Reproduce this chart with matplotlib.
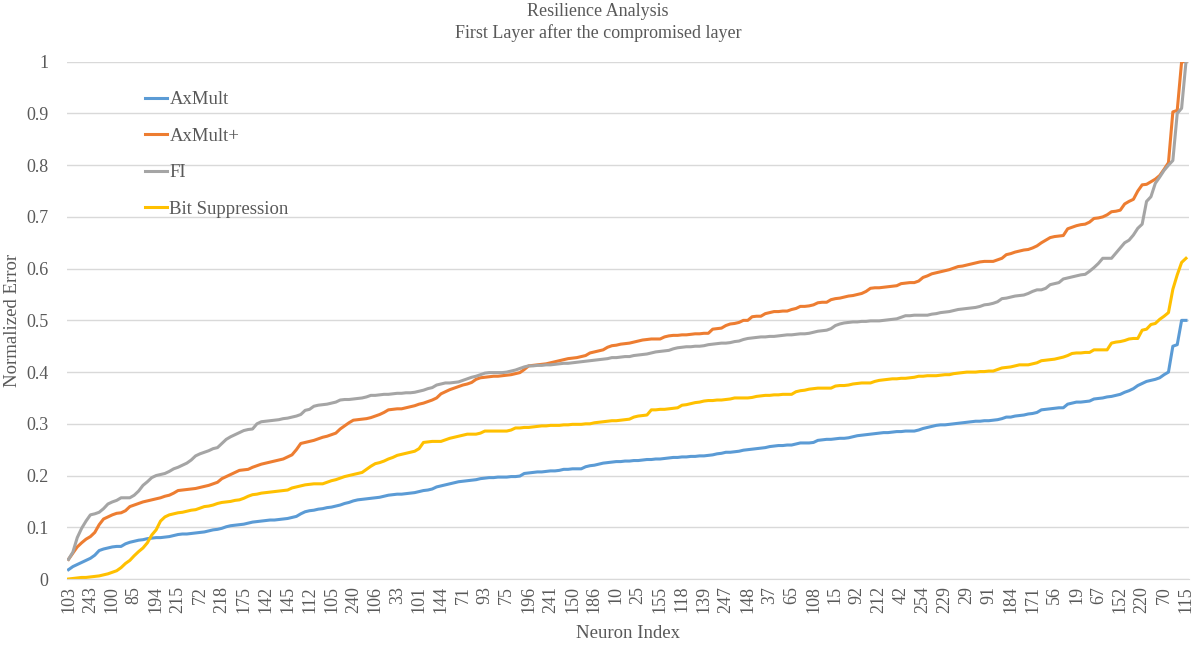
import matplotlib
matplotlib.use("Agg")
import matplotlib.pyplot as plt
import numpy as np

# tick labels (every 5th neuron on the sorted axis)
tick_labels = [
    "103", "243", "100", "85", "194", "215", "72", "218", "175", "142",
    "145", "112", "105", "240", "106", "33", "101", "144", "71", "93",
    "75", "196", "241", "150", "186", "10", "25", "155", "118", "139",
    "247", "148", "37", "65", "108", "15", "92", "212", "42", "254",
    "229", "29", "91", "184", "171", "56", "19", "67", "152", "220",
    "70", "115",
]

axmult = [
    0.018, 0.024, 0.028, 0.032, 0.036, 0.040, 0.046, 0.055, 0.058, 0.060,
    0.062, 0.063, 0.063, 0.068, 0.071, 0.073, 0.075, 0.076, 0.078, 0.079,
    0.080, 0.080, 0.081, 0.082, 0.084, 0.086, 0.087, 0.087, 0.088, 0.089,
    0.090, 0.091, 0.093, 0.095, 0.096, 0.098, 0.101, 0.103, 0.104, 0.105,
    0.106, 0.108, 0.110, 0.111, 0.112, 0.113, 0.114, 0.114, 0.115, 0.116,
    0.117, 0.119, 0.121, 0.126, 0.130, 0.132, 0.133, 0.135, 0.136, 0.138,
    0.139, 0.141, 0.143, 0.146, 0.148, 0.151, 0.153, 0.154, 0.155, 0.156,
    0.157, 0.158, 0.160, 0.162, 0.163, 0.164, 0.164, 0.165, 0.166, 0.167,
    0.169, 0.171, 0.172, 0.174, 0.178, 0.180, 0.182, 0.184, 0.186, 0.188,
    0.189, 0.190, 0.191, 0.192, 0.194, 0.195, 0.196, 0.196, 0.197, 0.197,
    0.197, 0.198, 0.198, 0.199, 0.204, 0.205, 0.206, 0.207, 0.207, 0.208,
    0.209, 0.209, 0.210, 0.212, 0.212, 0.213, 0.213, 0.213, 0.217, 0.219,
    0.220, 0.222, 0.224, 0.225, 0.226, 0.227, 0.227, 0.228, 0.228, 0.229,
    0.229, 0.230, 0.231, 0.231, 0.232, 0.232, 0.233, 0.234, 0.235, 0.235,
    0.236, 0.236, 0.237, 0.237, 0.238, 0.238, 0.239, 0.240, 0.242, 0.243,
    0.245, 0.245, 0.246, 0.247, 0.249, 0.250, 0.251, 0.252, 0.253, 0.254,
    0.256, 0.257, 0.258, 0.258, 0.259, 0.259, 0.261, 0.263, 0.263, 0.263,
    0.264, 0.268, 0.269, 0.270, 0.270, 0.271, 0.272, 0.272, 0.273, 0.275,
    0.277, 0.278, 0.279, 0.280, 0.281, 0.282, 0.283, 0.283, 0.284, 0.285,
    0.285, 0.286, 0.286, 0.286, 0.288, 0.291, 0.293, 0.295, 0.297, 0.298,
    0.298, 0.299, 0.300, 0.301, 0.302, 0.303, 0.304, 0.305, 0.305, 0.306,
    0.306, 0.307, 0.308, 0.310, 0.313, 0.313, 0.315, 0.316, 0.317, 0.319,
    0.320, 0.322, 0.327, 0.328, 0.329, 0.330, 0.331, 0.331, 0.338, 0.340,
    0.342, 0.342, 0.343, 0.344, 0.348, 0.349, 0.350, 0.352, 0.353, 0.355,
    0.357, 0.361, 0.364, 0.368, 0.374, 0.378, 0.382, 0.384, 0.386, 0.389,
    0.395, 0.400, 0.450, 0.453, 0.500, 0.500,
]

axmult_plus = [
    0.038, 0.050, 0.062, 0.070, 0.077, 0.082, 0.090, 0.105, 0.116, 0.120,
    0.124, 0.127, 0.128, 0.132, 0.140, 0.143, 0.146, 0.149, 0.151, 0.153,
    0.155, 0.157, 0.160, 0.162, 0.166, 0.171, 0.172, 0.173, 0.174, 0.175,
    0.177, 0.179, 0.181, 0.184, 0.187, 0.194, 0.198, 0.202, 0.206, 0.210,
    0.211, 0.212, 0.216, 0.219, 0.222, 0.224, 0.226, 0.228, 0.230, 0.232,
    0.236, 0.240, 0.250, 0.262, 0.264, 0.266, 0.268, 0.271, 0.274, 0.276,
    0.279, 0.282, 0.290, 0.296, 0.302, 0.307, 0.308, 0.309, 0.310, 0.312,
    0.315, 0.318, 0.322, 0.327, 0.328, 0.329, 0.329, 0.331, 0.333, 0.335,
    0.338, 0.340, 0.343, 0.346, 0.350, 0.358, 0.362, 0.366, 0.369, 0.372,
    0.375, 0.377, 0.380, 0.386, 0.389, 0.390, 0.391, 0.392, 0.392, 0.393,
    0.394, 0.395, 0.397, 0.399, 0.405, 0.412, 0.413, 0.414, 0.415, 0.416,
    0.418, 0.420, 0.422, 0.424, 0.426, 0.427, 0.428, 0.430, 0.432, 0.437,
    0.439, 0.441, 0.443, 0.448, 0.451, 0.452, 0.454, 0.455, 0.456, 0.458,
    0.460, 0.462, 0.463, 0.464, 0.464, 0.464, 0.468, 0.470, 0.471, 0.471,
    0.472, 0.472, 0.473, 0.474, 0.474, 0.475, 0.475, 0.483, 0.484, 0.485,
    0.490, 0.493, 0.494, 0.496, 0.500, 0.500, 0.507, 0.508, 0.508, 0.513,
    0.515, 0.517, 0.517, 0.518, 0.518, 0.521, 0.523, 0.527, 0.527, 0.528,
    0.530, 0.534, 0.535, 0.535, 0.540, 0.542, 0.543, 0.545, 0.547, 0.548,
    0.550, 0.552, 0.556, 0.562, 0.563, 0.563, 0.564, 0.565, 0.566, 0.567,
    0.571, 0.572, 0.573, 0.573, 0.576, 0.583, 0.586, 0.590, 0.592, 0.594,
    0.596, 0.598, 0.601, 0.604, 0.605, 0.607, 0.609, 0.611, 0.613, 0.614,
    0.614, 0.614, 0.617, 0.620, 0.627, 0.629, 0.632, 0.634, 0.636, 0.637,
    0.640, 0.644, 0.650, 0.655, 0.660, 0.662, 0.663, 0.664, 0.677, 0.680,
    0.683, 0.685, 0.686, 0.690, 0.697, 0.698, 0.700, 0.704, 0.710, 0.711,
    0.713, 0.725, 0.730, 0.734, 0.750, 0.762, 0.763, 0.768, 0.773, 0.780,
    0.792, 0.805, 0.903, 0.906, 1.000, 1.000,
]

fi = [
    0.038, 0.052, 0.080, 0.098, 0.112, 0.124, 0.126, 0.129, 0.136, 0.145,
    0.149, 0.152, 0.157, 0.157, 0.157, 0.162, 0.170, 0.181, 0.188, 0.196,
    0.200, 0.202, 0.204, 0.208, 0.213, 0.216, 0.220, 0.224, 0.230, 0.238,
    0.242, 0.245, 0.248, 0.252, 0.254, 0.262, 0.270, 0.275, 0.279, 0.283,
    0.287, 0.289, 0.290, 0.300, 0.304, 0.305, 0.306, 0.307, 0.308, 0.310,
    0.311, 0.313, 0.315, 0.318, 0.326, 0.328, 0.334, 0.336, 0.337, 0.338,
    0.340, 0.342, 0.346, 0.347, 0.347, 0.348, 0.349, 0.350, 0.352, 0.355,
    0.355, 0.356, 0.357, 0.357, 0.358, 0.359, 0.359, 0.360, 0.360, 0.361,
    0.363, 0.365, 0.368, 0.370, 0.375, 0.377, 0.379, 0.379, 0.380, 0.381,
    0.384, 0.387, 0.390, 0.392, 0.395, 0.398, 0.399, 0.399, 0.399, 0.399,
    0.400, 0.402, 0.404, 0.407, 0.410, 0.412, 0.412, 0.413, 0.413, 0.414,
    0.414, 0.415, 0.416, 0.417, 0.417, 0.418, 0.419, 0.420, 0.421, 0.422,
    0.423, 0.424, 0.425, 0.426, 0.428, 0.428, 0.429, 0.430, 0.430, 0.432,
    0.433, 0.434, 0.435, 0.437, 0.439, 0.440, 0.441, 0.442, 0.445, 0.447,
    0.448, 0.449, 0.449, 0.450, 0.450, 0.451, 0.453, 0.454, 0.455, 0.456,
    0.456, 0.457, 0.459, 0.460, 0.463, 0.465, 0.466, 0.467, 0.468, 0.468,
    0.469, 0.469, 0.470, 0.471, 0.472, 0.472, 0.473, 0.474, 0.474, 0.475,
    0.477, 0.479, 0.480, 0.481, 0.484, 0.490, 0.493, 0.495, 0.496, 0.497,
    0.497, 0.498, 0.498, 0.499, 0.499, 0.499, 0.500, 0.501, 0.502, 0.503,
    0.506, 0.509, 0.509, 0.510, 0.510, 0.510, 0.510, 0.512, 0.513, 0.515,
    0.516, 0.517, 0.519, 0.521, 0.522, 0.523, 0.524, 0.525, 0.527, 0.530,
    0.531, 0.533, 0.536, 0.542, 0.543, 0.545, 0.547, 0.548, 0.549, 0.552,
    0.556, 0.559, 0.559, 0.562, 0.569, 0.571, 0.573, 0.580, 0.582, 0.584,
    0.586, 0.588, 0.589, 0.595, 0.602, 0.610, 0.620, 0.620, 0.620, 0.630,
    0.640, 0.650, 0.655, 0.665, 0.678, 0.686, 0.730, 0.739, 0.765, 0.777,
    0.790, 0.800, 0.809, 0.900, 0.910, 1.000,
]

bit_suppression = [
    0.000, 0.001, 0.002, 0.003, 0.003, 0.004, 0.005, 0.006, 0.008, 0.010,
    0.013, 0.016, 0.022, 0.030, 0.036, 0.045, 0.053, 0.060, 0.070, 0.085,
    0.095, 0.112, 0.120, 0.124, 0.126, 0.128, 0.129, 0.131, 0.133, 0.134,
    0.137, 0.140, 0.141, 0.143, 0.146, 0.148, 0.149, 0.150, 0.152, 0.153,
    0.156, 0.160, 0.163, 0.164, 0.166, 0.167, 0.168, 0.169, 0.170, 0.171,
    0.172, 0.176, 0.178, 0.180, 0.182, 0.183, 0.184, 0.184, 0.184, 0.187,
    0.190, 0.192, 0.195, 0.198, 0.200, 0.202, 0.204, 0.206, 0.212, 0.218,
    0.223, 0.225, 0.228, 0.232, 0.235, 0.239, 0.241, 0.243, 0.245, 0.247,
    0.252, 0.264, 0.265, 0.266, 0.266, 0.266, 0.269, 0.272, 0.274, 0.276,
    0.278, 0.280, 0.280, 0.280, 0.282, 0.286, 0.286, 0.286, 0.286, 0.286,
    0.286, 0.288, 0.292, 0.292, 0.293, 0.293, 0.294, 0.295, 0.296, 0.296,
    0.297, 0.297, 0.297, 0.298, 0.298, 0.299, 0.299, 0.299, 0.300, 0.300,
    0.302, 0.303, 0.304, 0.305, 0.306, 0.306, 0.307, 0.308, 0.309, 0.313,
    0.315, 0.316, 0.317, 0.327, 0.327, 0.328, 0.328, 0.329, 0.330, 0.331,
    0.336, 0.337, 0.339, 0.341, 0.342, 0.344, 0.345, 0.345, 0.346, 0.346,
    0.347, 0.348, 0.350, 0.350, 0.350, 0.350, 0.351, 0.353, 0.354, 0.355,
    0.355, 0.356, 0.356, 0.357, 0.357, 0.357, 0.362, 0.364, 0.365, 0.367,
    0.368, 0.369, 0.369, 0.369, 0.369, 0.373, 0.374, 0.374, 0.375, 0.377,
    0.378, 0.379, 0.379, 0.379, 0.382, 0.384, 0.385, 0.386, 0.387, 0.387,
    0.388, 0.388, 0.389, 0.390, 0.392, 0.392, 0.393, 0.393, 0.393, 0.394,
    0.395, 0.395, 0.397, 0.398, 0.399, 0.400, 0.400, 0.400, 0.401, 0.401,
    0.402, 0.402, 0.405, 0.408, 0.409, 0.410, 0.412, 0.414, 0.414, 0.414,
    0.416, 0.418, 0.422, 0.423, 0.424, 0.425, 0.427, 0.429, 0.432, 0.436,
    0.437, 0.437, 0.438, 0.438, 0.443, 0.443, 0.443, 0.443, 0.456, 0.458,
    0.459, 0.461, 0.464, 0.465, 0.465, 0.481, 0.483, 0.492, 0.494, 0.502,
    0.508, 0.515, 0.560, 0.588, 0.612, 0.620,
]

series = [
    ("AxMult", axmult, "#5B9BD5"),
    ("AxMult+", axmult_plus, "#ED7D31"),
    ("FI", fi, "#A5A5A5"),
    ("Bit Suppression", bit_suppression, "#FFC000"),
]

text_color = "#595959"
grid_color = "#D9D9D9"

plt.rcParams["font.family"] = ["Liberation Serif", "DejaVu Serif"]

fig = plt.figure(figsize=(11.96, 6.47), dpi=100)
ax = fig.add_axes([0.0558, 0.1051, 0.9384, 0.7995])

x = np.arange(len(axmult))
for name, vals, color in series:
    ax.plot(x, vals, color=color, lw=2.2, label=name, solid_joinstyle="round")

ax.set_xlim(-0.4, len(x) - 1 + 0.7)
ax.set_ylim(0, 1)
ax.set_yticks(np.arange(0, 1.01, 0.1))
ax.set_yticklabels(["0"] + [f"{v:.1f}" for v in np.arange(0.1, 0.95, 0.1)] + ["1"])
ax.set_xticks(x[::5])
ax.set_xticklabels(tick_labels, rotation=90)

ax.grid(axis="y", color=grid_color, lw=1.0)
ax.set_axisbelow(True)
for side in ["top", "right", "left"]:
    ax.spines[side].set_visible(False)
ax.spines["bottom"].set_color(grid_color)
ax.tick_params(axis="y", length=0, pad=13, labelsize=13, labelcolor=text_color)
ax.tick_params(axis="x", length=0, pad=5, labelsize=13, labelcolor=text_color)

fig.text(0.5, 1 - 12 / 647, "Resilience Analysis", ha="center", va="center",
         fontsize=13, color=text_color)
fig.text(0.5, 1 - 33 / 647, "First Layer after the compromised layer", ha="center",
         va="center", fontsize=13, color=text_color)
fig.text(628 / 1196, 1 - 633 / 647, "Neuron Index", ha="center", va="center",
         fontsize=13.5, color=text_color)
fig.text(13 / 1196, 1 - 320 / 647, "Normalized Error", ha="center", va="center",
         rotation=90, fontsize=13.5, color=text_color)

leg = ax.legend(loc="upper left", bbox_to_anchor=(145 / 1196, 1 - 91 / 647),
                bbox_transform=fig.transFigure, frameon=False, fontsize=13.5,
                handlelength=1.15, handletextpad=0.15, labelspacing=1.04,
                borderpad=0, borderaxespad=0)
for t in leg.get_texts():
    t.set_color(text_color)

fig.savefig("out.png", dpi=100)
